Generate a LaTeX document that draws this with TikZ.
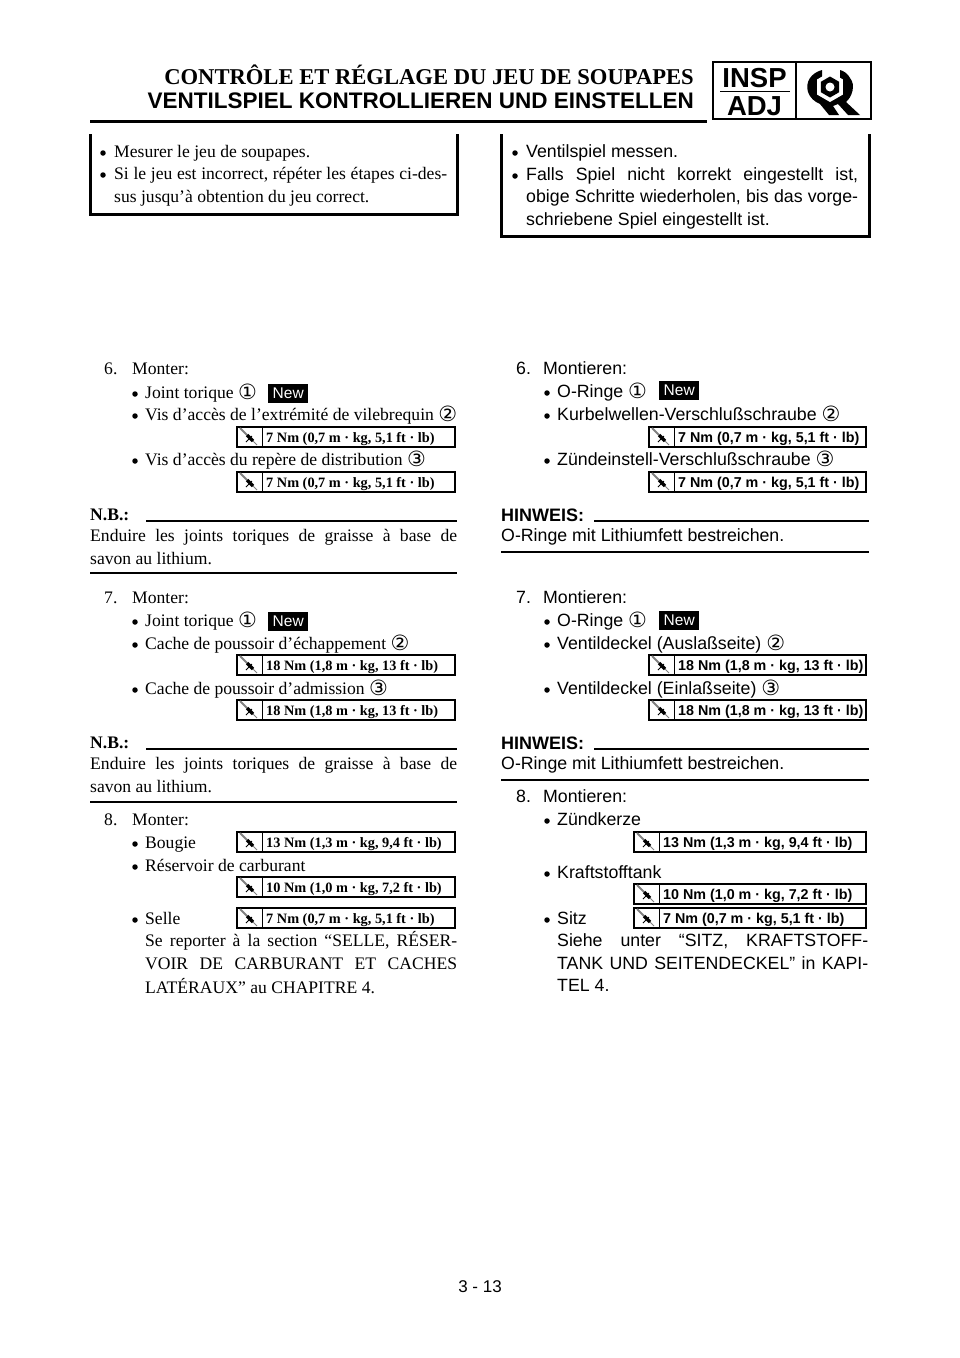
\documentclass[tikz,border=0pt]{standalone}
\usepackage{fontspec}
\setmainfont{Liberation Serif}
\setsansfont{Liberation Sans}
\newfontfamily\symbfont{DejaVu Sans}
\usetikzlibrary{positioning,shapes.geometric}

\tikzset{
  frtxt/.style={anchor=base west, inner sep=0pt, font=\fontsize{17.6}{20}\selectfont},
  detxt/.style={anchor=base west, inner sep=0pt, font=\fontsize{17.75}{20}\selectfont\sffamily},
  bullet/.style={circle, fill=black, inner sep=0pt, minimum size=5.5pt},
  newbox/.style={fill=black, text=white, inner sep=0pt, minimum width=40pt, minimum height=19pt, font=\fontsize{15.5}{18}\selectfont\sffamily},
  tqbox/.style={draw, line width=1.6pt, inner sep=0pt, outer sep=0pt, minimum height=20pt},
  bar/.style={line width=2.6pt},
  wall/.style={line width=3pt},
  hexnut/.style={regular polygon, regular polygon sides=6, shape border rotate=30, inner sep=0pt}
}
% justified line, stretched to #1
\newcommand{\jline}[2]{\makebox[#1pt][s]{#2}}
\newcommand{\circnum}[1]{\raisebox{-1.5pt}{\symbfont\fontsize{21}{22}\selectfont #1}}
% bullet + text: name, style, x of bullet, x of text, baseline, text
\newcommand{\itm}[6]{
  \node[bullet] (b#1) at (#3,#5-4) {};
  \node[#2] (t#1) at (#4,#5) {#6};
}
% torque box: name, left, divider, right, top, family, text
\newcommand{\torque}[7]{
  \node[tqbox, anchor=north west, minimum width=#4pt-#2pt] (q#1) at (#2,#5) {};
  \coordinate (qa#1) at (#3,#5);
  \coordinate (qb#1) at (#3,#5+20);
  \draw[line width=1pt] (qa#1) -- (qb#1);
  \draw[line width=2pt, gray] (#2+3,#5+1) -- (#2+10,#5+8);
  \draw[line width=3.2pt] (#2+10,#5+8) -- (#2+16,#5+14);
  \draw[line width=1pt] (#2+9,#5+15) -- (#2+15,#5+9);
  \draw[line width=1pt, gray] (#2+16,#5+14) -- (#2+20,#5+18);
  \node[anchor=base west, inner sep=0pt, font=\fontsize{14.3}{17}\selectfont\bfseries#6] (l#1) at (#3+4,#5+15) {#7};
}

\begin{document}
\begin{tikzpicture}[x=1pt,y=-1pt]
  \useasboundingbox (0,0) rectangle (960,1358);

  % title
  \node[anchor=base east, inner sep=0pt, font=\fontsize{22.6}{26}\selectfont\bfseries] (titlefr) at (694,84) {CONTRÔLE ET RÉGLAGE DU JEU DE SOUPAPES};
  \node[anchor=base east, inner sep=0pt, font=\fontsize{22.5}{26}\selectfont\bfseries\sffamily] (titlede) at (694,108) {VENTILSPIEL KONTROLLIEREN UND EINSTELLEN};
  \draw[line width=3pt] (90,121) -- (707,121);

  % badge
  \draw[line width=2.6pt] (713,62) rectangle (871,119);
  \draw[line width=2.6pt] (796,62) -- (796,119);
  \draw[line width=1pt] (720,91.5) -- (790,91.5);
  \node[anchor=base, inner sep=0pt, font=\fontsize{27.5}{30}\selectfont\bfseries\sffamily] (insp) at (754.5,87) {INSP};
  \node[anchor=base, inner sep=0pt, font=\fontsize{27.5}{30}\selectfont\bfseries\sffamily] (adj) at (754.5,115) {ADJ};
  \fill (822,70) .. controls (811,73) and (805,82) .. (808,92) .. controls (810,98) and (815,102) .. (820,104) -- (829,115) -- (839,115) -- (833,106) -- (838,104) -- (848,115) -- (860,115) -- (846,102) .. controls (852,97) and (856,85) .. (850,78) .. controls (848,74) and (844,71) .. (840,70) -- (840,80) -- (822,80) -- cycle;
  \node[hexnut, fill=white, minimum size=30pt] (nutout) at (830,87) {};
  \node[hexnut, fill=black, minimum size=21pt] (nut) at (830,87) {};
  \node[circle, fill=white, minimum size=9pt, inner sep=0pt] (nuthole) at (830,87) {};

  % warning boxes
  \draw[wall] (90,134) -- (90,214) -- (457,214) -- (457,134);
  \draw[wall] (501,134) -- (501,236) -- (869,236) -- (869,134);
  \itm{a1}{frtxt}{103}{114}{157}{Mesurer le jeu de soupapes.}
  \itm{a2}{frtxt}{103}{114}{179}{\jline{333}{Si le jeu est incorrect, répéter les étapes ci-des-}}
  \node[frtxt] (a3) at (114,202) {sus jusqu’à obtention du jeu correct.};
  \itm{c1}{detxt}{515}{526}{157}{Ventilspiel messen.}
  \itm{c2}{detxt}{515}{526}{180}{\jline{332}{Falls Spiel nicht korrekt eingestellt ist,}}
  \node[detxt] (c3) at (526,202) {\jline{332}{obige Schritte wiederholen, bis das vorge-}};
  \node[detxt] (c4) at (526,225) {schriebene Spiel eingestellt ist.};

  % left column
  \node[frtxt] (n6) at (104,374) {6.};
  \node[frtxt] (m6) at (132,374) {Monter:};
  \itm{l1}{frtxt}{135}{145}{398}{Joint torique \circnum{①}}
  \node[newbox, anchor=north west] (new1) at (268,384) {New};
  \itm{l2}{frtxt}{135}{145}{420}{Vis d’accès de l’extrémité de vilebrequin \circnum{②}}
  \torque{l1}{237}{262}{455}{427}{}{7 Nm (0,7 m · kg, 5,1 ft · lb)}
  \itm{l3}{frtxt}{135}{145}{465}{Vis d’accès du repère de distribution \circnum{③}}
  \torque{l2}{237}{262}{455}{472}{}{7 Nm (0,7 m · kg, 5,1 ft · lb)}
  \node[frtxt, font=\fontsize{17.6}{20}\selectfont\bfseries] (nb1) at (90,520) {N.B.:};
  \draw[bar] (146,521) -- (457,521);
  \node[frtxt] (e1) at (90,541) {\jline{367}{Enduire les joints toriques de graisse à base de}};
  \node[frtxt] (s1) at (90,564) {savon au lithium.};
  \draw[bar] (90,573) -- (457,573);

  \node[frtxt] (n7) at (104,603) {7.};
  \node[frtxt] (m7) at (132,603) {Monter:};
  \itm{l4}{frtxt}{135}{145}{626}{Joint torique \circnum{①}}
  \node[newbox, anchor=north west] (new2) at (268,612) {New};
  \itm{l5}{frtxt}{135}{145}{649}{Cache de poussoir d’échappement \circnum{②}}
  \torque{l3}{237}{262}{455}{655}{}{18 Nm (1,8 m · kg, 13 ft · lb)}
  \itm{l6}{frtxt}{135}{145}{694}{Cache de poussoir d’admission \circnum{③}}
  \torque{l4}{237}{262}{455}{700}{}{18 Nm (1,8 m · kg, 13 ft · lb)}
  \node[frtxt, font=\fontsize{17.6}{20}\selectfont\bfseries] (nb2) at (90,748) {N.B.:};
  \draw[bar] (146,749) -- (457,749);
  \node[frtxt] (e2) at (90,769) {\jline{367}{Enduire les joints toriques de graisse à base de}};
  \node[frtxt] (s2) at (90,792) {savon au lithium.};
  \draw[bar] (90,802) -- (457,802);

  \node[frtxt] (n8) at (104,825) {8.};
  \node[frtxt] (m8) at (132,825) {Monter:};
  \itm{l7}{frtxt}{135}{145}{848}{Bougie}
  \torque{l5}{237}{262}{455}{832}{}{13 Nm (1,3 m · kg, 9,4 ft · lb)}
  \itm{l8}{frtxt}{135}{145}{871}{Réservoir de carburant}
  \torque{l6}{237}{262}{455}{877}{}{10 Nm (1,0 m · kg, 7,2 ft · lb)}
  \itm{l9}{frtxt}{135}{145}{924}{Selle}
  \torque{l7}{237}{262}{455}{908}{}{7 Nm (0,7 m · kg, 5,1 ft · lb)}
  \node[frtxt] (r1) at (145,946) {\jline{312}{Se reporter à la section “SELLE, RÉSER-}};
  \node[frtxt] (r2) at (145,969) {\jline{312}{VOIR DE CARBURANT ET CACHES}};
  \node[frtxt] (r3) at (145,993) {LATÉRAUX” au CHAPITRE 4.};

  % right column
  \node[detxt] (p6) at (516,374) {6.};
  \node[detxt] (q6) at (543,374) {Montieren:};
  \itm{r1}{detxt}{547}{557}{397}{O-Ringe \circnum{①}}
  \node[newbox, anchor=north west] (new3) at (659,381) {New};
  \itm{r2}{detxt}{547}{557}{420}{Kurbelwellen-Verschlußschraube \circnum{②}}
  \torque{r1}{649}{674}{866}{427}{\sffamily}{7 Nm (0,7 m · kg, 5,1 ft · lb)}
  \itm{r3}{detxt}{547}{557}{465}{Zündeinstell-Verschlußschraube \circnum{③}}
  \torque{r2}{649}{674}{866}{472}{\sffamily}{7 Nm (0,7 m · kg, 5,1 ft · lb)}
  \node[detxt, font=\fontsize{18}{20}\selectfont\bfseries\sffamily] (hw1) at (501,521) {HINWEIS:};
  \draw[bar] (594,521) -- (869,521);
  \node[detxt] (o1) at (501,541) {O-Ringe mit Lithiumfett bestreichen.};
  \draw[bar] (501,552) -- (869,552);

  \node[detxt] (p7) at (516,603) {7.};
  \node[detxt] (q7) at (543,603) {Montieren:};
  \itm{r4}{detxt}{547}{557}{626}{O-Ringe \circnum{①}}
  \node[newbox, anchor=north west] (new4) at (659,611) {New};
  \itm{r5}{detxt}{547}{557}{649}{Ventildeckel (Auslaßseite) \circnum{②}}
  \torque{r3}{649}{674}{866}{655}{\sffamily}{18 Nm (1,8 m · kg, 13 ft · lb)}
  \itm{r6}{detxt}{547}{557}{694}{Ventildeckel (Einlaßseite) \circnum{③}}
  \torque{r4}{649}{674}{866}{700}{\sffamily}{18 Nm (1,8 m · kg, 13 ft · lb)}
  \node[detxt, font=\fontsize{18}{20}\selectfont\bfseries\sffamily] (hw2) at (501,749) {HINWEIS:};
  \draw[bar] (594,749) -- (869,749);
  \node[detxt] (o2) at (501,769) {O-Ringe mit Lithiumfett bestreichen.};
  \draw[bar] (501,780) -- (869,780);

  \node[detxt] (p8) at (516,802) {8.};
  \node[detxt] (q8) at (543,802) {Montieren:};
  \itm{r7}{detxt}{547}{557}{825}{Zündkerze}
  \torque{r5}{634}{659}{866}{832}{\sffamily}{13 Nm (1,3 m · kg, 9,4 ft · lb)}
  \itm{r8}{detxt}{547}{557}{878}{Kraftstofftank}
  \torque{r6}{634}{659}{866}{884}{\sffamily}{10 Nm (1,0 m · kg, 7,2 ft · lb)}
  \itm{r9}{detxt}{547}{557}{924}{Sitz}
  \torque{r7}{634}{659}{866}{908}{\sffamily}{7 Nm (0,7 m · kg, 5,1 ft · lb)}
  \node[detxt] (u1) at (557,946) {\jline{311}{Siehe unter “SITZ, KRAFTSTOFF-}};
  \node[detxt] (u2) at (557,969) {\jline{311}{TANK UND SEITENDECKEL” in KAPI-}};
  \node[detxt] (u3) at (557,991) {TEL 4.};

  % page number
  \node[anchor=base, inner sep=0pt, font=\fontsize{17}{20}\selectfont\sffamily] (page) at (480,1292) {3 - 13};
\end{tikzpicture}
\end{document}
